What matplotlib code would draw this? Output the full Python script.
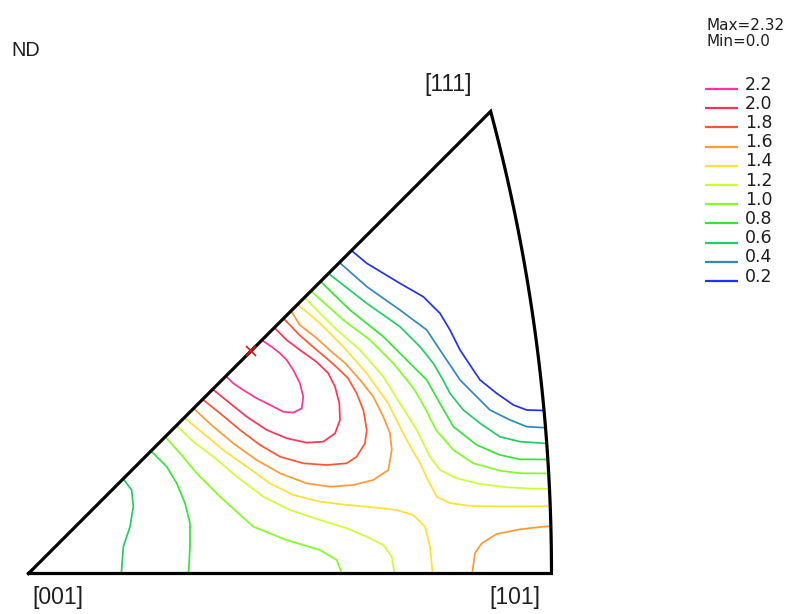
import numpy as np
import matplotlib
matplotlib.use("Agg")
import matplotlib.pyplot as plt
from matplotlib.path import Path
from matplotlib.patches import PathPatch

# ---- data -------------------------------------------------------------
levels = [2.2, 2.0, 1.8, 1.6, 1.4, 1.2, 1.0, 0.8, 0.6, 0.4, 0.2]
level_colors = ["#ff3399", "#ff3355", "#ff5533", "#ff9933", "#ffe033", "#ccff33",
                "#80ff22", "#33e633", "#22cc66", "#3388bb", "#2233ee"]
max_value = 2.32
min_value = 0.0
max_pos = (0.1762, 0.1762)          # stereographic position of the maximum

# iso-density lines in stereographic coordinates (x, y)
c22_x = [0.1564, 0.1622, 0.1701, 0.1807, 0.1913, 0.2018, 0.2097, 0.2164, 0.2176, 0.2150, 0.2097, 0.2045, 0.1992, 0.1926, 0.1848]
c22_y = [0.1564, 0.1506, 0.1453, 0.1388, 0.1335, 0.1281, 0.1274, 0.1308, 0.1400, 0.1506, 0.1612, 0.1691, 0.1744, 0.1796, 0.1848]

c20_x = [0.1459, 0.1596, 0.1728, 0.1887, 0.2045, 0.2203, 0.2335, 0.2428, 0.2467, 0.2462, 0.2428, 0.2374, 0.2283, 0.2150, 0.2045, 0.1947]
c20_y = [0.1459, 0.1348, 0.1242, 0.1137, 0.1071, 0.1036, 0.1044, 0.1110, 0.1216, 0.1348, 0.1479, 0.1586, 0.1675, 0.1770, 0.1849, 0.1947]

c18_x = [0.1379, 0.1517, 0.1675, 0.1834, 0.1992, 0.2176, 0.2362, 0.2520, 0.2599, 0.2665, 0.2679, 0.2652, 0.2599, 0.2530, 0.2414, 0.2283, 0.2150, 0.2020]
c18_y = [0.1379, 0.1269, 0.1137, 0.1018, 0.0925, 0.0873, 0.0859, 0.0873, 0.0925, 0.1031, 0.1137, 0.1295, 0.1427, 0.1548, 0.1659, 0.1770, 0.1885, 0.2020]

c16_x = [0.1307, 0.1464, 0.1622, 0.1807, 0.1992, 0.2203, 0.2388, 0.2573, 0.2731, 0.2850, 0.2877, 0.2863, 0.2810, 0.2731, 0.2626, 0.2507, 0.2414, 0.2283, 0.2150, 0.2079]
c16_y = [0.1307, 0.1163, 0.1031, 0.0899, 0.0794, 0.0714, 0.0687, 0.0701, 0.0741, 0.0820, 0.0978, 0.1110, 0.1242, 0.1400, 0.1533, 0.1667, 0.1744, 0.1863, 0.1968, 0.2079]
c16b_x = [0.3510, 0.3536, 0.3589, 0.3708, 0.3893, 0.4077, 0.4170]
c16b_y = [-0.003, 0.0160, 0.0239, 0.0313, 0.0350, 0.0371, 0.0376]

c14a_x = [0.1234, 0.1384, 0.1543, 0.1728, 0.1913, 0.2097, 0.2309, 0.2520, 0.2731, 0.2916, 0.3048, 0.3140, 0.3180, 0.3204]
c14a_y = [0.1234, 0.1110, 0.0978, 0.0846, 0.0714, 0.0622, 0.0569, 0.0543, 0.0524, 0.0503, 0.0463, 0.0371, 0.0212, -0.003]
c14b_x = [0.2132, 0.2309, 0.2493, 0.2679, 0.2847, 0.2995, 0.3101, 0.3164, 0.3233, 0.3338, 0.3497, 0.3734, 0.3972, 0.4170]
c14b_y = [0.2132, 0.1982, 0.1796, 0.1586, 0.1350, 0.1057, 0.0875, 0.0741, 0.0608, 0.0558, 0.0535, 0.0531, 0.0531, 0.0535]

c12a_x = [0.1172, 0.1305, 0.1464, 0.1649, 0.1860, 0.2071, 0.2309, 0.2520, 0.2679, 0.2810, 0.2877, 0.2903]
c12a_y = [0.1172, 0.1044, 0.0925, 0.0767, 0.0608, 0.0503, 0.0424, 0.0358, 0.0291, 0.0226, 0.0133, -0.003]
c12b_x = [0.2186, 0.2414, 0.2626, 0.2810, 0.2942, 0.3075, 0.3180, 0.3259, 0.3391, 0.3576, 0.3787, 0.3972, 0.4170]
c12b_y = [0.2186, 0.1955, 0.1770, 0.1559, 0.1348, 0.1137, 0.0925, 0.0820, 0.0754, 0.0709, 0.0683, 0.0673, 0.0669]

c10a_x = [0.1083, 0.1200, 0.1332, 0.1517, 0.1780, 0.2045, 0.2309, 0.2441, 0.2493]
c10a_y = [0.1083, 0.0952, 0.0794, 0.0608, 0.0371, 0.0265, 0.0186, 0.0107, -0.003]
c10b_x = [0.2237, 0.2493, 0.2705, 0.2889, 0.3048, 0.3140, 0.3227, 0.3365, 0.3523, 0.3734, 0.3893, 0.4170]
c10b_y = [0.2237, 0.2008, 0.1849, 0.1665, 0.1469, 0.1311, 0.1137, 0.0978, 0.0873, 0.0814, 0.0794, 0.0792]

c08a_x = [0.0970, 0.1095, 0.1174, 0.1240, 0.1279, 0.1279, 0.1266]
c08a_y = [0.0970, 0.0846, 0.0714, 0.0556, 0.0398, 0.0212, -0.003]
c08b_x = [0.2313, 0.2546, 0.2810, 0.2995, 0.3154, 0.3243, 0.3365, 0.3550, 0.3734, 0.3893, 0.4170]
c08b_y = [0.2313, 0.2087, 0.1876, 0.1691, 0.1533, 0.1374, 0.1163, 0.1018, 0.0939, 0.0904, 0.0903]

c06a_x = [0.0750, 0.0817, 0.0830, 0.0804, 0.0751, 0.0733]
c06a_y = [0.0750, 0.0661, 0.0529, 0.0371, 0.0212, -0.003]
c06b_x = [0.2376, 0.2679, 0.2942, 0.3101, 0.3206, 0.3283, 0.3338, 0.3444, 0.3576, 0.3734, 0.3893, 0.4170]
c06b_y = [0.2376, 0.2140, 0.1955, 0.1796, 0.1665, 0.1533, 0.1427, 0.1295, 0.1190, 0.1083, 0.1044, 0.1026]

c04_x = [0.2463, 0.2679, 0.2942, 0.3154, 0.3259, 0.3365, 0.3418, 0.3523, 0.3655, 0.3814, 0.3946, 0.4170]
c04_y = [0.2463, 0.2272, 0.2087, 0.1929, 0.1770, 0.1612, 0.1533, 0.1427, 0.1295, 0.1216, 0.1163, 0.1150]

c02_x = [0.2558, 0.2679, 0.2942, 0.3127, 0.3259, 0.3338, 0.3418, 0.3523, 0.3576, 0.3708, 0.3840, 0.3946, 0.4170]
c02_y = [0.2558, 0.2457, 0.2298, 0.2192, 0.2061, 0.1929, 0.1770, 0.1612, 0.1533, 0.1427, 0.1335, 0.1295, 0.1289]

contour_lines = [
    (2.2, c22_x, c22_y), (2.0, c20_x, c20_y), (1.8, c18_x, c18_y),
    (1.6, c16_x, c16_y), (1.6, c16b_x, c16b_y),
    (1.4, c14a_x, c14a_y), (1.4, c14b_x, c14b_y),
    (1.2, c12a_x, c12a_y), (1.2, c12b_x, c12b_y),
    (1.0, c10a_x, c10a_y), (1.0, c10b_x, c10b_y),
    (0.8, c08a_x, c08a_y), (0.8, c08b_x, c08b_y),
    (0.6, c06a_x, c06a_y), (0.6, c06b_x, c06b_y),
    (0.4, c04_x, c04_y), (0.2, c02_x, c02_y),
]

corner_labels = ["[001]", "[101]", "[111]"]

# ---- figure -----------------------------------------------------------
W, H = 790, 614
fig = plt.figure(figsize=(W / 100, H / 100), dpi=100)
fig.patch.set_facecolor("white")

ax = fig.add_axes([0, 0, 1, 1])
ax.set_xlim(-0.022572, 0.603120)
ax.set_ylim(-0.032077, 0.454221)
ax.set_aspect("equal", adjustable="box")
ax.axis("off")

# standard stereographic triangle: [001]-[101] edge, [101]-[111] great circle, [111]-[001] edge
t101 = np.sqrt(2) - 1
p111 = (np.sqrt(3) - 1) / 2
theta = np.linspace(0, np.arctan2(p111, p111 + 1), 80)
arc_x = -1 + np.sqrt(2) * np.cos(theta)
arc_y = np.sqrt(2) * np.sin(theta)
tri_x = np.concatenate([[0.0], arc_x, [0.0]])
tri_y = np.concatenate([[0.0], arc_y, [0.0]])
tri_path = Path(np.column_stack([tri_x, tri_y]))
clip_patch = PathPatch(tri_path, facecolor="none", edgecolor="none", transform=ax.transData)
ax.add_patch(clip_patch)

color_of = dict(zip(levels, level_colors))
for lev, xs, ys in contour_lines:
    ln, = ax.plot(xs, ys, color=color_of[lev], lw=1.25, solid_joinstyle="round", zorder=2)
    ln.set_clip_path(clip_patch)

ax.plot(tri_x, tri_y, color="black", lw=2.3, solid_joinstyle="miter",
        solid_capstyle="projecting", zorder=4)

ax.plot(*max_pos, marker="x", color="#ee1111", ms=7, mew=1.2, zorder=5)

label_font = dict(family=["Liberation Sans", "DejaVu Sans"], fontsize=16.5, color="#1e1e1e")
ax.text(0.0230, -0.0190, corner_labels[0], ha="center", va="center", **label_font)
ax.text(0.3853, -0.0190, corner_labels[1], ha="center", va="center", **label_font)
ax.text(0.3325, 0.3869, corner_labels[2], ha="center", va="center", **label_font)

# ---- annotation layer in pixel units -----------------------------------
lax = fig.add_axes([0, 0, 1, 1])
lax.set_xlim(0, W)
lax.set_ylim(H, 0)
lax.axis("off")
lax.patch.set_visible(False)

lax.text(11.5, 56, "ND", ha="left", va="baseline",
         family=["Liberation Sans", "DejaVu Sans"], fontsize=14.3, color="#1e1e1e")

key_font = dict(family="DejaVu Sans", color="#1e1e1e")
lax.text(706, 29.5, f"Max={max_value:.2f}", ha="left", va="baseline", fontsize=11, **key_font)
lax.text(706, 46.5, f"Min={min_value:.1f}", ha="left", va="baseline", fontsize=11, **key_font)

for i, (lev, col) in enumerate(zip(levels, level_colors)):
    yb = 89 + i * 19.2
    lax.plot([705, 738], [yb, yb], color=col, lw=1.6, solid_capstyle="butt")
    lax.text(745, yb + 0.5, f"{lev:.1f}", ha="left", va="baseline", fontsize=12.5, **key_font)

fig.savefig("out.png", dpi=100, facecolor="white")
